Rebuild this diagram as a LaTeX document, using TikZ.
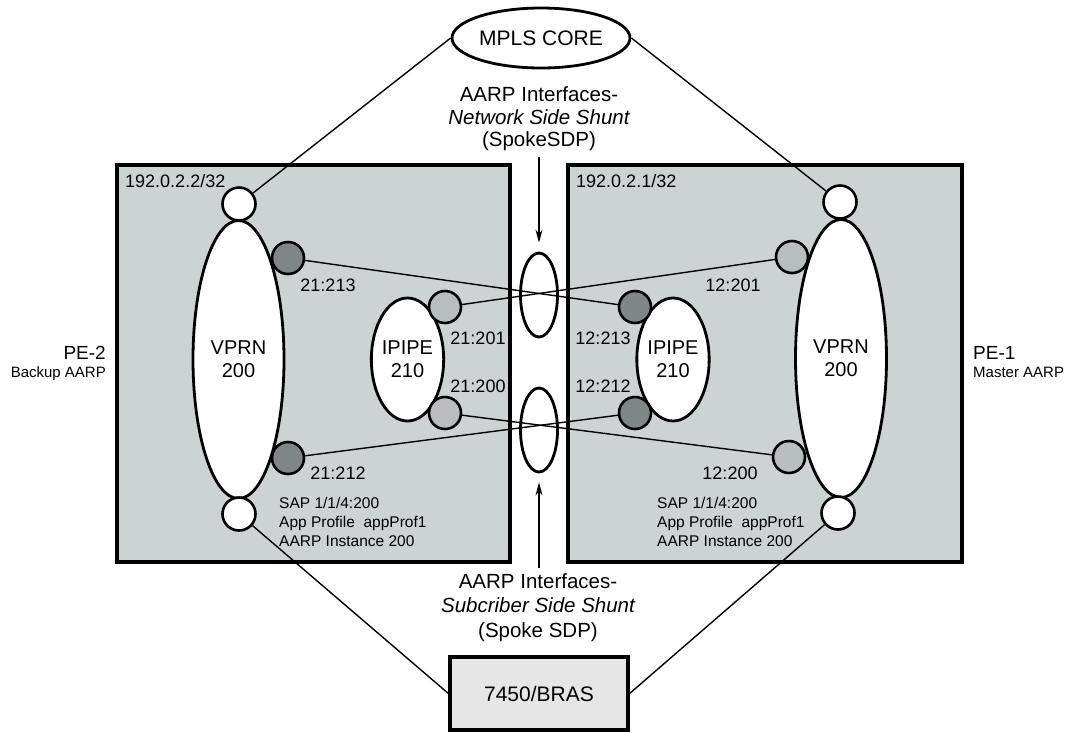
\documentclass[tikz,border=0pt]{standalone}
\usepackage{fontspec}
\setmainfont{Liberation Sans}
\usetikzlibrary{shapes.geometric,arrows.meta}
\pgfdeclarelayer{boxes}
\pgfdeclarelayer{wires}
\pgfsetlayers{boxes,wires,main}
\definecolor{boxgray}{HTML}{CDD3D2}
\definecolor{brasgray}{HTML}{E6E6E6}
\definecolor{portdark}{HTML}{7F8786}
\definecolor{portlight}{HTML}{B8BEBD}
\begin{document}
\begin{tikzpicture}[x=1pt,y=-1pt,
  pebox/.style={draw,line width=3.2pt,fill=boxgray,inner sep=0},
  brasbox/.style={draw,line width=3.2pt,fill=brasgray,inner sep=0,minimum width=178pt,minimum height=73pt,font=\fontsize{21}{24}\selectfont},
  cloud/.style={ellipse,draw,line width=2.8pt,fill=white,inner sep=0,minimum width=178pt,minimum height=60pt,font=\fontsize{21}{24}\selectfont},
  vprn/.style={ellipse,draw,line width=2.8pt,fill=white,inner sep=0,minimum width=91pt,minimum height=278pt,align=center,font=\fontsize{20}{23}\selectfont},
  ipipe/.style={ellipse,draw,line width=2.8pt,fill=white,inner sep=0,minimum width=69pt,minimum height=123pt,align=center,font=\fontsize{20}{23}\selectfont},
  shunt/.style={ellipse,draw,line width=2.8pt,inner sep=0,minimum width=37pt,minimum height=84pt},
  wcirc/.style={circle,draw,line width=2.6pt,fill=white,inner sep=0,minimum size=33pt},
  dport/.style={circle,draw,line width=2.6pt,fill=portdark,inner sep=0,minimum size=32pt},
  lport/.style={circle,draw,line width=2.6pt,fill=portlight,inner sep=0,minimum size=32pt},
  wire/.style={line width=1.4pt},
  arr/.style={line width=1.4pt,-{Stealth[length=13pt,width=7pt]}},
  plbl/.style={inner sep=0,font=\fontsize{18}{18}\selectfont},
  sap/.style={inner sep=0,anchor=base west,font=\fontsize{15.5}{19}\selectfont},
  big/.style={inner sep=0,anchor=base,font=\fontsize{20.5}{23}\selectfont},
  pename/.style={inner sep=0,font=\fontsize{19}{20}\selectfont},
  perole/.style={inner sep=0,font=\fontsize{15}{16}\selectfont}
]
\useasboundingbox (0,0) rectangle (1070,732);

\begin{pgfonlayer}{boxes}
  \node[pebox,minimum width=393pt,minimum height=397pt] (pe2) at (313.5,363.5) {};
  \node[pebox,minimum width=394pt,minimum height=397pt] (pe1) at (765,363.5) {};
\end{pgfonlayer}

% top cloud and bras
\node[cloud] (mpls) at (541,38) {MPLS CORE};
\node[brasbox] (bras) at (539,693.5) {7450/BRAS};

% shunt ellipses
\node[shunt] (sh1) at (539,295) {};
\node[shunt] (sh2) at (539,430) {};

% PE-2 (left)
\node[vprn] (vprnl) at (238.5,359.5) {VPRN\\200};
\node[ipipe] (ipipel) at (407.5,359.5) {IPIPE\\210};
\node[wcirc] (ltop) at (239,204) {};
\node[wcirc] (lbot) at (239,514) {};
\node[dport] (p21213) at (288,258) {};
\node[lport] (p21201) at (445,307) {};
\node[lport] (p21200) at (445,413) {};
\node[dport] (p21212) at (288,458) {};

% PE-1 (right)
\node[vprn] (vprnr) at (841,358.5) {VPRN\\200};
\node[ipipe] (ipiper) at (673,359.5) {IPIPE\\210};
\node[wcirc] (rtop) at (840,202) {};
\node[wcirc] (rbot) at (838,513) {};
\node[lport] (p12201) at (792,257) {};
\node[dport] (p12213) at (635,307) {};
\node[dport] (p12212) at (635,413) {};
\node[lport] (p12200) at (789,457) {};

% wires
\begin{pgfonlayer}{wires}
  \draw[wire] (mpls.west) -- (ltop);
  \draw[wire] (mpls.east) -- (rtop);
  \draw[wire] (lbot) -- (bras.west);
  \draw[wire] (rbot) -- (bras.east);
  \draw[wire] (p21213) -- (p12213);
  \draw[wire] (p21201) -- (p12201);
  \draw[wire] (p21200) -- (p12200);
  \draw[wire] (p21212) -- (p12212);
\end{pgfonlayer}

% arrows
\coordinate (atop) at (539,157);
\coordinate (abot) at (539,568);
\draw[arr,shorten >=9pt] (atop) -- (sh1);
\draw[arr,shorten >=9pt] (abot) -- (sh2);

% central texts
\node[big] (nt1) at (539,101.5) {AARP Interfaces-};
\node[big] (nt2) at (539,124) {\itshape Network Side Shunt};
\node[big] (nt3) at (539,146.5) {(SpokeSDP)};
\node[big] (st1) at (538,588) {AARP Interfaces-};
\node[big] (st2) at (538,612.5) {\itshape Subcriber Side Shunt};
\node[big] (st3) at (538,637) {(Spoke SDP)};

% addresses
\node[plbl,anchor=west] (addl) at (125,181) {192.0.2.2/32};
\node[plbl,anchor=west] (addr) at (576,181) {192.0.2.1/32};

% port labels
\node[plbl] (l21213) at (328,285) {21:213};
\node[plbl] (l21201) at (478,338) {21:201};
\node[plbl] (l21200) at (478,386) {21:200};
\node[plbl] (l21212) at (338,473) {21:212};
\node[plbl] (l12201) at (733,285) {12:201};
\node[plbl] (l12213) at (603,338) {12:213};
\node[plbl] (l12212) at (603,386) {12:212};
\node[plbl] (l12200) at (730,473) {12:200};

% SAP texts
\node[sap] (sapl1) at (279,508) {SAP 1/1/4:200};
\node[sap] (sapl2) at (279,527) {App Profile\ \ appProf1};
\node[sap] (sapl3) at (279,546) {AARP Instance 200};
\node[sap] (sapr1) at (657,508) {SAP 1/1/4:200};
\node[sap] (sapr2) at (657,527) {App Profile\ \ appProf1};
\node[sap] (sapr3) at (657,546) {AARP Instance 200};

% PE names
\node[pename,anchor=base east] (pe2n) at (106,359.5) {PE-2};
\node[perole,anchor=base east] (pe2r) at (106,377) {Backup AARP};
\node[pename,anchor=base west] (pe1n) at (973,359.5) {PE-1};
\node[perole,anchor=base west] (pe1r) at (973,377) {Master AARP};
\end{tikzpicture}
\end{document}
